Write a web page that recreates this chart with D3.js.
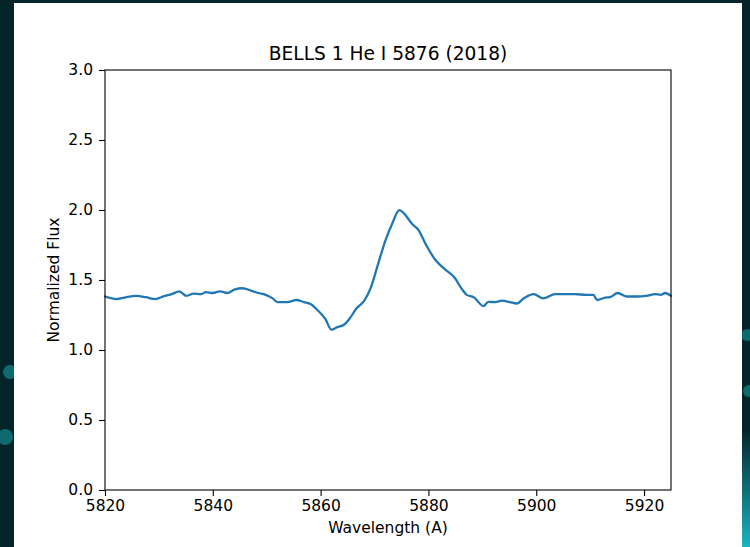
<!DOCTYPE html>
<html>
<head>
<meta charset="utf-8">
<script src="https://cdn.jsdelivr.net/npm/d3@7"></script>
<style>
  html, body { margin: 0; padding: 0; background: #03252a; }
  svg { display: block; }
  text { font-family: "DejaVu Sans", sans-serif; fill: #000; }
</style>
</head>
<body>
<div id="chart"></div>
<script>
// spectrum
const wavelength = [5820, 5822.2, 5823.6, 5825.8, 5827.6, 5829.3, 5831.1, 5832.4, 5833.8, 5835.1,
  5836.4, 5837.8, 5838.7, 5840, 5841.3, 5842.7, 5844, 5845.5, 5847.1, 5848.4,
  5849.8, 5851.1, 5852, 5853.8, 5855.5, 5856.9, 5858.2, 5859.5, 5860.9, 5862,
  5863.1, 5864.4, 5865.3, 5866.6, 5868.1, 5869.3, 5870.6, 5872, 5873.3, 5874.6,
  5875.5, 5876.9, 5878.2, 5879.5, 5881.3, 5883.1, 5884.8, 5886.2, 5887.1, 5888.4,
  5890.2, 5891.1, 5892.4, 5893.7, 5895.1, 5896.4, 5897.7, 5899.5, 5901.3, 5903.5,
  5905.3, 5907.1, 5909.3, 5910.6, 5911.3, 5912.8, 5913.7, 5915.1, 5916.8, 5918.6,
  5920.4, 5922.1, 5923.1, 5923.9, 5925];
const flux = [1.382, 1.364, 1.374, 1.387, 1.377, 1.364, 1.387, 1.399, 1.419, 1.387,
  1.402, 1.399, 1.414, 1.407, 1.419, 1.407, 1.431, 1.441, 1.424, 1.407,
  1.394, 1.369, 1.342, 1.342, 1.357, 1.342, 1.327, 1.282, 1.220, 1.145,
  1.163, 1.182, 1.220, 1.294, 1.352, 1.444, 1.606, 1.780, 1.904, 1.999,
  1.974, 1.904, 1.855, 1.755, 1.643, 1.576, 1.519, 1.436, 1.394, 1.377,
  1.314, 1.344, 1.342, 1.352, 1.342, 1.332, 1.369, 1.399, 1.369, 1.399,
  1.399, 1.399, 1.394, 1.394, 1.357, 1.374, 1.377, 1.407, 1.382, 1.382,
  1.387, 1.399, 1.394, 1.407, 1.387];

const xTicks = [5820, 5840, 5860, 5880, 5900, 5920];
const yTicks = [0.0, 0.5, 1.0, 1.5, 2.0, 2.5, 3.0];

const titleText = "BELLS 1 He I 5876 (2018)";
const xLabel = "Wavelength (A)";
const yLabel = "Normalized Flux";

const svgWidth = 750;
const svgHeight = 547;

const margin = { top: 70, right: 79, bottom: 57, left: 105 };
const width = svgWidth - margin.left - margin.right;
const height = svgHeight - margin.top - margin.bottom;

const svg = d3.select("#chart")
  .append("svg")
  .attr("width", svgWidth)
  .attr("height", svgHeight);

// slide background bits
const defs = svg.append("defs");
const glow = defs.append("linearGradient")
  .attr("id", "glow")
  .attr("x1", 0).attr("y1", 0).attr("x2", 0).attr("y2", 1);
glow.append("stop").attr("offset", "0%").attr("stop-color", "#03252a");
glow.append("stop").attr("offset", "100%").attr("stop-color", "#19b4c0");

svg.append("rect")
  .attr("x", 742).attr("y", 430)
  .attr("width", 8).attr("height", 117)
  .attr("fill", "url(#glow)");

[[10, 372, 7], [5, 437, 8], [747, 335, 6], [749, 391, 6]].forEach(c => {
  svg.append("circle")
    .attr("cx", c[0]).attr("cy", c[1]).attr("r", c[2])
    .attr("fill", "#0f6a70");
});

// white figure panel
svg.append("rect")
  .attr("x", 14).attr("y", 3)
  .attr("width", 728).attr("height", 544)
  .attr("fill", "#fff");

const chartGroup = svg.append("g")
  .attr("transform", `translate(${margin.left}, ${margin.top})`);

const xScale = d3.scaleLinear()
  .domain([5820, 5925])
  .range([0, width]);

const yScale = d3.scaleLinear()
  .domain([0, 3])
  .range([height, 0]);

const bottomAxis = d3.axisBottom(xScale)
  .tickValues(xTicks)
  .tickFormat(d3.format("d"))
  .tickSize(6)
  .tickPadding(4);

const leftAxis = d3.axisLeft(yScale)
  .tickValues(yTicks)
  .tickFormat(d3.format(".1f"))
  .tickSize(6)
  .tickPadding(6);

const xAxis = chartGroup.append("g")
  .attr("transform", `translate(0, ${height})`)
  .call(bottomAxis);

const yAxis = chartGroup.append("g")
  .call(leftAxis);

[xAxis, yAxis].forEach(ax => {
  ax.select(".domain").remove();
  ax.selectAll(".tick line").attr("stroke", "#000").attr("stroke-width", 1.1);
  ax.selectAll(".tick text")
    .attr("fill", "#000")
    .style("font-size", "15.5px")
    .style("font-family", "DejaVu Sans, sans-serif");
});

// spectrum
const points = wavelength.map((w, i) => [w, flux[i]]);

const line = d3.line()
  .x(d => xScale(d[0]))
  .y(d => yScale(d[1]))
  .curve(d3.curveMonotoneX);

chartGroup.append("path")
  .datum(points)
  .attr("d", line)
  .attr("fill", "none")
  .attr("stroke", "#1f77b4")
  .attr("stroke-width", 2.3)
  .attr("stroke-linejoin", "round")
  .attr("stroke-linecap", "round");

// frame
chartGroup.append("rect")
  .attr("width", width)
  .attr("height", height)
  .attr("fill", "none")
  .attr("stroke", "#000")
  .attr("stroke-width", 1.1);

// title and labels
chartGroup.append("text")
  .attr("x", width / 2)
  .attr("y", -10)
  .attr("text-anchor", "middle")
  .style("font-size", "18.6px")
  .text(titleText);

chartGroup.append("text")
  .attr("x", width / 2)
  .attr("y", height + 43)
  .attr("text-anchor", "middle")
  .style("font-size", "15.5px")
  .text(xLabel);

chartGroup.append("text")
  .attr("transform", "rotate(-90)")
  .attr("x", -height / 2)
  .attr("y", -46)
  .attr("text-anchor", "middle")
  .style("font-size", "15.5px")
  .text(yLabel);
</script>
</body>
</html>
